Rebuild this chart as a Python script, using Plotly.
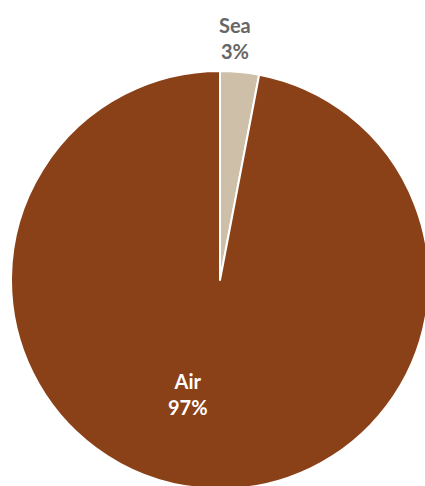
import plotly.graph_objects as go

labels = ["Sea", "Air"]
values = [3, 97]
colors = ["#CDBFA8", "#8B4118"]
text_colors = ["#666666", "#FFFFFF"]
# label anchor positions (paper fractions of the pie box)
label_x = [0.536, 0.423]
label_y = [1.080, 0.228]

fig = go.Figure(go.Pie(
    labels=labels,
    values=values,
    sort=False,
    direction="clockwise",
    rotation=0,
    marker=dict(colors=colors, line=dict(color="#FFFFFF", width=2)),
    textinfo="none",
    showlegend=False,
    hoverinfo="skip",
))

total = sum(values)
for lab, val, col, x, y in zip(labels, values, text_colors, label_x, label_y):
    fig.add_annotation(
        x=x, y=y, xref="paper", yref="paper",
        text=f"{lab}<br>{round(val / total * 100)}%",
        showarrow=False,
        xanchor="center", yanchor="middle",
        font=dict(family="Lato", size=20, color=col, weight="bold"),
    )

fig.update_layout(
    width=450,
    height=510,
    margin=dict(l=11, r=21, t=71, b=21),
    paper_bgcolor="#FFFFFF",
    plot_bgcolor="#FFFFFF",
)

fig.write_html(
    "out.html",
    post_script="document.documentElement.style.overflow='hidden';document.body.style.overflow='hidden';document.body.style.margin='0';",
)
